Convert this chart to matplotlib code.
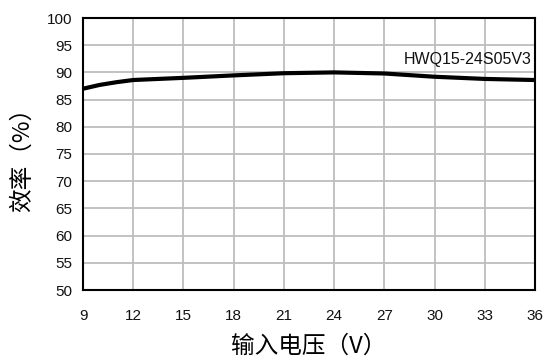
import matplotlib
matplotlib.use('Agg')
import matplotlib.pyplot as plt

# input voltage (V) vs efficiency (%)
voltage = [9, 10, 11, 12, 13.5, 15, 18, 21, 24, 27, 30, 33, 36]
efficiency = [87.0, 87.7, 88.2, 88.6, 88.8, 89.0, 89.45, 89.85, 90.0, 89.8, 89.2, 88.8, 88.6]
x_ticks = list(range(9, 37, 3))
y_ticks = list(range(50, 101, 5))
model = 'HWQ15-24S05V3'

plt.rcParams['font.family'] = ['Liberation Sans', 'Noto Sans CJK SC', 'DejaVu Sans']
cjk = ['Noto Sans CJK SC', 'DejaVu Sans']

fig = plt.figure(figsize=(5.45, 3.58), dpi=100)
ax = fig.add_axes([83 / 545, 1 - 290 / 358, 452 / 545, 272 / 358])

ax.plot(voltage, efficiency, color='black', linewidth=3, solid_capstyle='butt', zorder=3)
ax.set_xlim(9, 36)
ax.set_ylim(50, 100)
ax.set_xticks(x_ticks)
ax.set_yticks(y_ticks)
ax.grid(True, color='#bdbdbd', linewidth=1.3)
ax.tick_params(length=0, labelsize=11, colors='#111111')
ax.tick_params(axis='x', pad=14)
ax.tick_params(axis='y', pad=8)
for s in ax.spines.values():
    s.set_linewidth(1.5)
    s.set_color('black')

ax.text(35.8, 91.0, model, ha='right', va='bottom', fontsize=11.5, color='#111111')

ax.set_xlabel('输入电压（V）', fontsize=17, family=cjk, labelpad=8)
ax.set_ylabel('效率（%）', fontsize=17, family=cjk, labelpad=9)

fig.savefig('out.png', dpi=100)
